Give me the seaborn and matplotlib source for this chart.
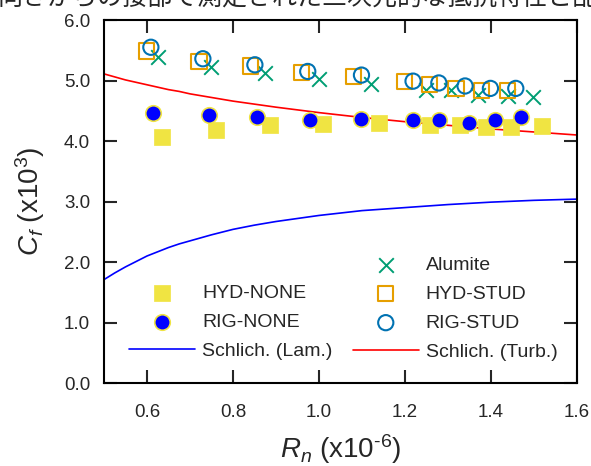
import numpy as np
import pandas as pd
import matplotlib
matplotlib.use('Agg')
import matplotlib.pyplot as plt
import seaborn as sns

# data
hyd_none_rn = [0.634, 0.761, 0.886, 1.010, 1.140, 1.258, 1.328, 1.388, 1.448, 1.518]
hyd_none_cf = [4.07, 4.18, 4.26, 4.28, 4.29, 4.26, 4.26, 4.24, 4.23, 4.25]

rig_none_rn = [0.613, 0.744, 0.857, 0.979, 1.099, 1.219, 1.279, 1.350, 1.409, 1.469]
rig_none_cf = [4.46, 4.43, 4.40, 4.35, 4.36, 4.34, 4.34, 4.30, 4.34, 4.39]

alumite_rn = [0.626, 0.749, 0.874, 1.000, 1.120, 1.249, 1.308, 1.369, 1.439, 1.498]
alumite_cf = [5.39, 5.22, 5.12, 5.02, 4.94, 4.85, 4.84, 4.76, 4.74, 4.73]

hyd_stud_rn = [0.599, 0.721, 0.841, 0.960, 1.080, 1.200, 1.258, 1.319, 1.378, 1.439]
hyd_stud_cf = [5.49, 5.31, 5.24, 5.13, 5.07, 4.99, 4.94, 4.87, 4.84, 4.84]

rig_stud_rn = [0.609, 0.730, 0.851, 0.974, 1.099, 1.219, 1.279, 1.340, 1.399, 1.458]
rig_stud_cf = [5.55, 5.36, 5.26, 5.15, 5.09, 4.99, 4.96, 4.91, 4.87, 4.87]

curve_rn = [0.500, 0.525, 0.550, 0.575, 0.600, 0.625, 0.650, 0.675, 0.700, 0.750,
            0.800, 0.850, 0.900, 1.000, 1.100, 1.200, 1.300, 1.400, 1.500, 1.600]
lam_cf = [1.71, 1.82, 1.92, 2.01, 2.10, 2.17, 2.24, 2.30, 2.35, 2.45,
          2.54, 2.61, 2.67, 2.77, 2.85, 2.90, 2.95, 2.99, 3.02, 3.04]
turb_cf = [5.11, 5.06, 5.01, 4.97, 4.93, 4.89, 4.85, 4.82, 4.78, 4.72,
           4.66, 4.61, 4.56, 4.47, 4.39, 4.32, 4.26, 4.20, 4.15, 4.10]

x_ticks = [0.6, 0.8, 1.0, 1.2, 1.4, 1.6]
y_ticks = [0.0, 1.0, 2.0, 3.0, 4.0, 5.0, 6.0]

header = "向きからの接部で測定された三次元的な抵抗特性と乱流構造から"

sns.set_style('ticks')
plt.rcParams['font.family'] = ['Liberation Sans', 'Noto Sans CJK JP', 'DejaVu Sans']
plt.rcParams['mathtext.fontset'] = 'custom'
plt.rcParams['mathtext.rm'] = 'Liberation Sans'
plt.rcParams['mathtext.it'] = 'Liberation Sans:italic'

fig = plt.figure(figsize=(5.91, 4.66), dpi=100)
ax = fig.add_axes([0.176, 0.178, 0.800, 0.779])

sns.lineplot(x=curve_rn, y=lam_cf, ax=ax, color='#0000FF', lw=1.2,
             label='Schlich. (Lam.)', zorder=1)
sns.lineplot(x=curve_rn, y=turb_cf, ax=ax, color='#FF0000', lw=1.2,
             label='Schlich. (Turb.)', zorder=1)

sns.scatterplot(x=hyd_none_rn, y=hyd_none_cf, ax=ax, marker='s', s=120,
                color='#F0E442', edgecolor='#F0E442', linewidth=0.5,
                label='HYD-NONE', zorder=2)
sns.scatterplot(x=rig_none_rn, y=rig_none_cf, ax=ax, marker='o', s=125,
                color='#0000FF', edgecolor='#F0E442', linewidth=1.2,
                label='RIG-NONE', zorder=3)
sns.scatterplot(x=alumite_rn, y=alumite_cf, ax=ax, marker='x', s=110,
                color='#009E73', linewidth=1.4, label='Alumite', zorder=4)
sns.scatterplot(x=hyd_stud_rn, y=hyd_stud_cf, ax=ax, marker='s', s=120,
                facecolor='none', edgecolor='#E69F00', linewidth=1.5,
                label='HYD-STUD', zorder=4)
sns.scatterplot(x=rig_stud_rn, y=rig_stud_cf, ax=ax, marker='o', s=120,
                facecolor='none', edgecolor='#0072B2', linewidth=1.5,
                label='RIG-STUD', zorder=5)

ax.set_xlim(0.5, 1.6)
ax.set_ylim(0.0, 6.0)
ax.set_xticks(x_ticks)
ax.set_xticklabels([f'{v:.1f}' for v in x_ticks])
ax.set_yticks(y_ticks)
ax.set_yticklabels([f'{v:.1f}' for v in y_ticks])
ax.tick_params(axis='both', direction='in', length=9.5, width=1.5,
               labelsize=13.5, top=True, right=True)
ax.tick_params(axis='x', pad=15)
ax.tick_params(axis='y', pad=10)
for sp in ax.spines.values():
    sp.set_linewidth(1.5)
    sp.set_color('black')

ax.set_xlabel('$\\mathit{R_n}$ (x10$^{\u2010\\mathrm{6}}$)', fontsize=20, labelpad=8)
ax.set_ylabel(r'$\mathit{C_f}$ (x10$^{\mathrm{3}}$)', fontsize=20, labelpad=12)

handles, labels = ax.get_legend_handles_labels()
hmap = dict(zip(labels, handles))
ax.get_legend().remove()

left_names = ['HYD-NONE', 'RIG-NONE', 'Schlich. (Lam.)']
right_names = ['Alumite', 'HYD-STUD', 'RIG-STUD', 'Schlich. (Turb.)']
leg1 = ax.legend([hmap[n] for n in left_names], left_names, loc='upper left',
                 bbox_to_anchor=(0.053, 0.272), frameon=False, fontsize=14,
                 handlelength=3.4, handletextpad=0.35, labelspacing=0.59,
                 borderpad=0, borderaxespad=0)
ax.add_artist(leg1)
ax.legend([hmap[n] for n in right_names], right_names, loc='upper left',
          bbox_to_anchor=(0.526, 0.350), frameon=False, fontsize=14,
          handlelength=3.4, handletextpad=0.35, labelspacing=0.59,
          borderpad=0, borderaxespad=0)

fig.text(-0.005, 1 - 11 / 466, header, fontsize=18, va='bottom', ha='left',
         family=['Noto Sans CJK JP', 'DejaVu Sans'])

fig.savefig('out.png', dpi=100)
